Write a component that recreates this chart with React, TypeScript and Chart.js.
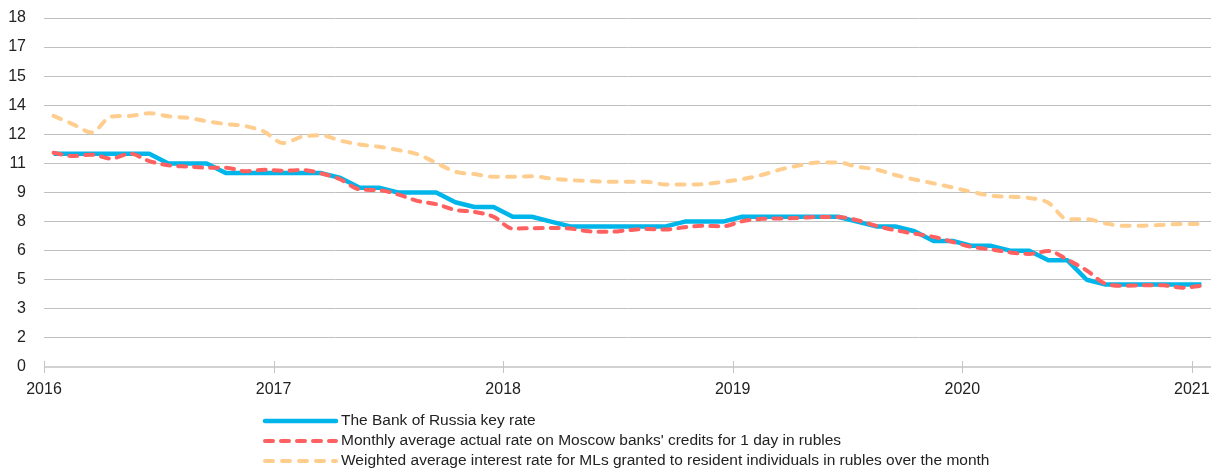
import React, { useEffect, useRef } from "react";
import { Chart, registerables } from "chart.js";

Chart.register(...registerables);

// Month slots Jan 2016 .. Jan 2021 (61 monthly observations)
const yearTicks = ["2016", "2017", "2018", "2019", "2020", "2021"];

const keyRate = [
  11, 11, 11, 11, 11, 11, 10.5, 10.5, 10.5, 10, 10, 10,
  10, 10, 10, 9.75, 9.25, 9.25, 9, 9, 9, 8.5, 8.25, 8.25,
  7.75, 7.75, 7.5, 7.25, 7.25, 7.25, 7.25, 7.25, 7.25, 7.5, 7.5, 7.5,
  7.75, 7.75, 7.75, 7.75, 7.75, 7.75, 7.5, 7.25, 7.25, 7, 6.5, 6.5,
  6.25, 6.25, 6, 6, 5.5, 5.5, 4.5, 4.25, 4.25, 4.25, 4.25, 4.25,
  4.25,
];

const interbankRate = [
  11.05, 10.88, 10.95, 10.75, 11.0, 10.62, 10.4, 10.34, 10.28, 10.28, 10.1, 10.17,
  10.12, 10.16, 9.98, 9.67, 9.16, 9.12, 8.9, 8.57, 8.4, 8.1, 8.0, 7.75,
  7.14, 7.16, 7.17, 7.14, 7.0, 6.97, 7.05, 7.12, 7.09, 7.21, 7.28, 7.26,
  7.52, 7.64, 7.66, 7.69, 7.74, 7.74, 7.57, 7.28, 7.05, 6.88, 6.71, 6.45,
  6.19, 6.07, 5.91, 5.83, 5.98, 5.53, 4.98, 4.29, 4.19, 4.21, 4.21, 4.09,
  4.19,
];

const mortgageRate = [
  12.95, 12.53, 12.1, 12.91, 12.95, 13.09, 12.93, 12.85, 12.68, 12.53, 12.43, 12.14,
  11.55, 11.88, 11.95, 11.67, 11.48, 11.36, 11.19, 10.98, 10.53, 10.07, 9.95, 9.81,
  9.81, 9.84, 9.72, 9.64, 9.59, 9.55, 9.55, 9.55, 9.41, 9.41, 9.43, 9.55,
  9.69, 9.9, 10.19, 10.4, 10.55, 10.55, 10.33, 10.19, 9.9, 9.67, 9.47, 9.26,
  9.03, 8.84, 8.78, 8.72, 8.47, 7.62, 7.62, 7.4, 7.28, 7.29, 7.33, 7.38,
  7.38,
];

const seriesNames = [
  "The Bank of Russia key rate",
  "Monthly average actual rate on Moscow banks' credits for 1 day in rubles",
  "Weighted average interest rate for MLs granted to resident individuals in rubles over the month",
];

const BLUE = "#00b5e9";
const RED = "#ff6060";
const ORANGE = "#ffcd8e";
const FONT = "'Liberation Sans', Arial, sans-serif";
const TEXT = "#222222";

const toPoints = (arr: number[]) => arr.map((y, i) => ({ x: i + 0.5, y }));

const legendPlugin = {
  id: "customLegend",
  afterDraw(chart: any) {
    const ctx = chart.ctx;
    const rows = [421, 441, 461];
    const x0 = 265;
    const x1 = 336;
    const tx = 341;
    ctx.save();
    chart.data.datasets.forEach((ds: any, i: number) => {
      const y = rows[i];
      ctx.beginPath();
      ctx.strokeStyle = ds.borderColor;
      ctx.lineWidth = ds.borderWidth;
      ctx.lineCap = "round";
      ctx.setLineDash(ds.borderDash || []);
      ctx.moveTo(x0, y);
      ctx.lineTo(x1, y);
      ctx.stroke();
      ctx.setLineDash([]);
      ctx.fillStyle = TEXT;
      ctx.font = `15.5px ${FONT}`;
      ctx.textBaseline = "middle";
      ctx.textAlign = "left";
      ctx.fillText(ds.label, tx, y);
    });
    ctx.restore();
  },
};

const xTickMarks = {
  id: "xTickMarks",
  afterDraw(chart: any) {
    const ctx = chart.ctx;
    const xs = chart.scales.x;
    const yAxis = chart.chartArea.bottom;
    ctx.save();
    ctx.strokeStyle = "#c4c4c4";
    ctx.lineWidth = 1;
    xs.ticks.forEach((t: any) => {
      const px = Math.round(xs.getPixelForValue(t.value)) + 0.5;
      ctx.beginPath();
      ctx.moveTo(px, yAxis - 6);
      ctx.lineTo(px, yAxis + 6);
      ctx.stroke();
    });
    ctx.restore();
  },
};

export default function App() {
  const ref = useRef<HTMLCanvasElement | null>(null);

  useEffect(() => {
    document.body.style.margin = "0";
    if (!ref.current) return;
    const chart = new Chart(ref.current, {
      type: "line",
      data: {
        datasets: [
          {
            label: seriesNames[0],
            data: toPoints(keyRate),
            borderColor: BLUE,
            backgroundColor: BLUE,
            borderWidth: 4.5,
            pointRadius: 0,
            tension: 0,
            borderJoinStyle: "round",
            order: 1,
          },
          {
            label: seriesNames[1],
            data: toPoints(interbankRate),
            borderColor: RED,
            backgroundColor: RED,
            borderWidth: 4,
            borderDash: [8, 8],
            borderCapStyle: "round",
            pointRadius: 0,
            cubicInterpolationMode: "monotone",
            order: 0,
          },
          {
            label: seriesNames[2],
            data: toPoints(mortgageRate),
            borderColor: ORANGE,
            backgroundColor: ORANGE,
            borderWidth: 4,
            borderDash: [8, 9],
            borderCapStyle: "round",
            pointRadius: 0,
            cubicInterpolationMode: "monotone",
            order: 2,
          },
        ],
      },
      options: {
        responsive: false,
        animation: false,
        layout: { padding: { top: 18, right: 15, left: 0, bottom: 69 } },
        plugins: {
          legend: { display: false },
          tooltip: { enabled: false },
        },
        scales: {
          x: {
            type: "linear",
            min: 0,
            max: 61,
            afterBuildTicks: (scale: any) => {
              scale.ticks = yearTicks.map((_, i) => ({ value: i * 12 }));
            },
            afterFit: (scale: any) => {
              scale.height = 40;
              scale.paddingLeft = 0;
              scale.paddingRight = 0;
            },
            grid: { display: false },
            border: { display: false },
            ticks: {
              maxRotation: 0,
              autoSkip: false,
              padding: 5,
              color: TEXT,
              font: { family: FONT, size: 16 },
              callback: (v: any) => yearTicks[Math.round(Number(v) / 12)],
            },
          },
          y: {
            min: 0,
            max: 18,
            afterFit: (scale: any) => {
              scale.width = 44;
              scale.paddingTop = 0;
              scale.paddingBottom = 0;
            },
            border: { display: false },
            grid: {
              drawTicks: false,
              color: (c: any) => (c.tick && c.tick.value === 0 ? "#d2d2d2" : "#c0c0c0"),
              lineWidth: (c: any) => (c.tick && c.tick.value === 0 ? 2 : 1),
            },
            ticks: {
              stepSize: 1.5,
              padding: 18,
              color: TEXT,
              font: { family: FONT, size: 16 },
              callback: (v: any) => String(Math.round(Number(v))),
            },
          },
        },
      },
      plugins: [xTickMarks, legendPlugin],
    });
    return () => chart.destroy();
  }, []);

  return (
    <div style={{ width: 1226, height: 476 }}>
      <canvas ref={ref} width={1226} height={476} />
    </div>
  );
}
